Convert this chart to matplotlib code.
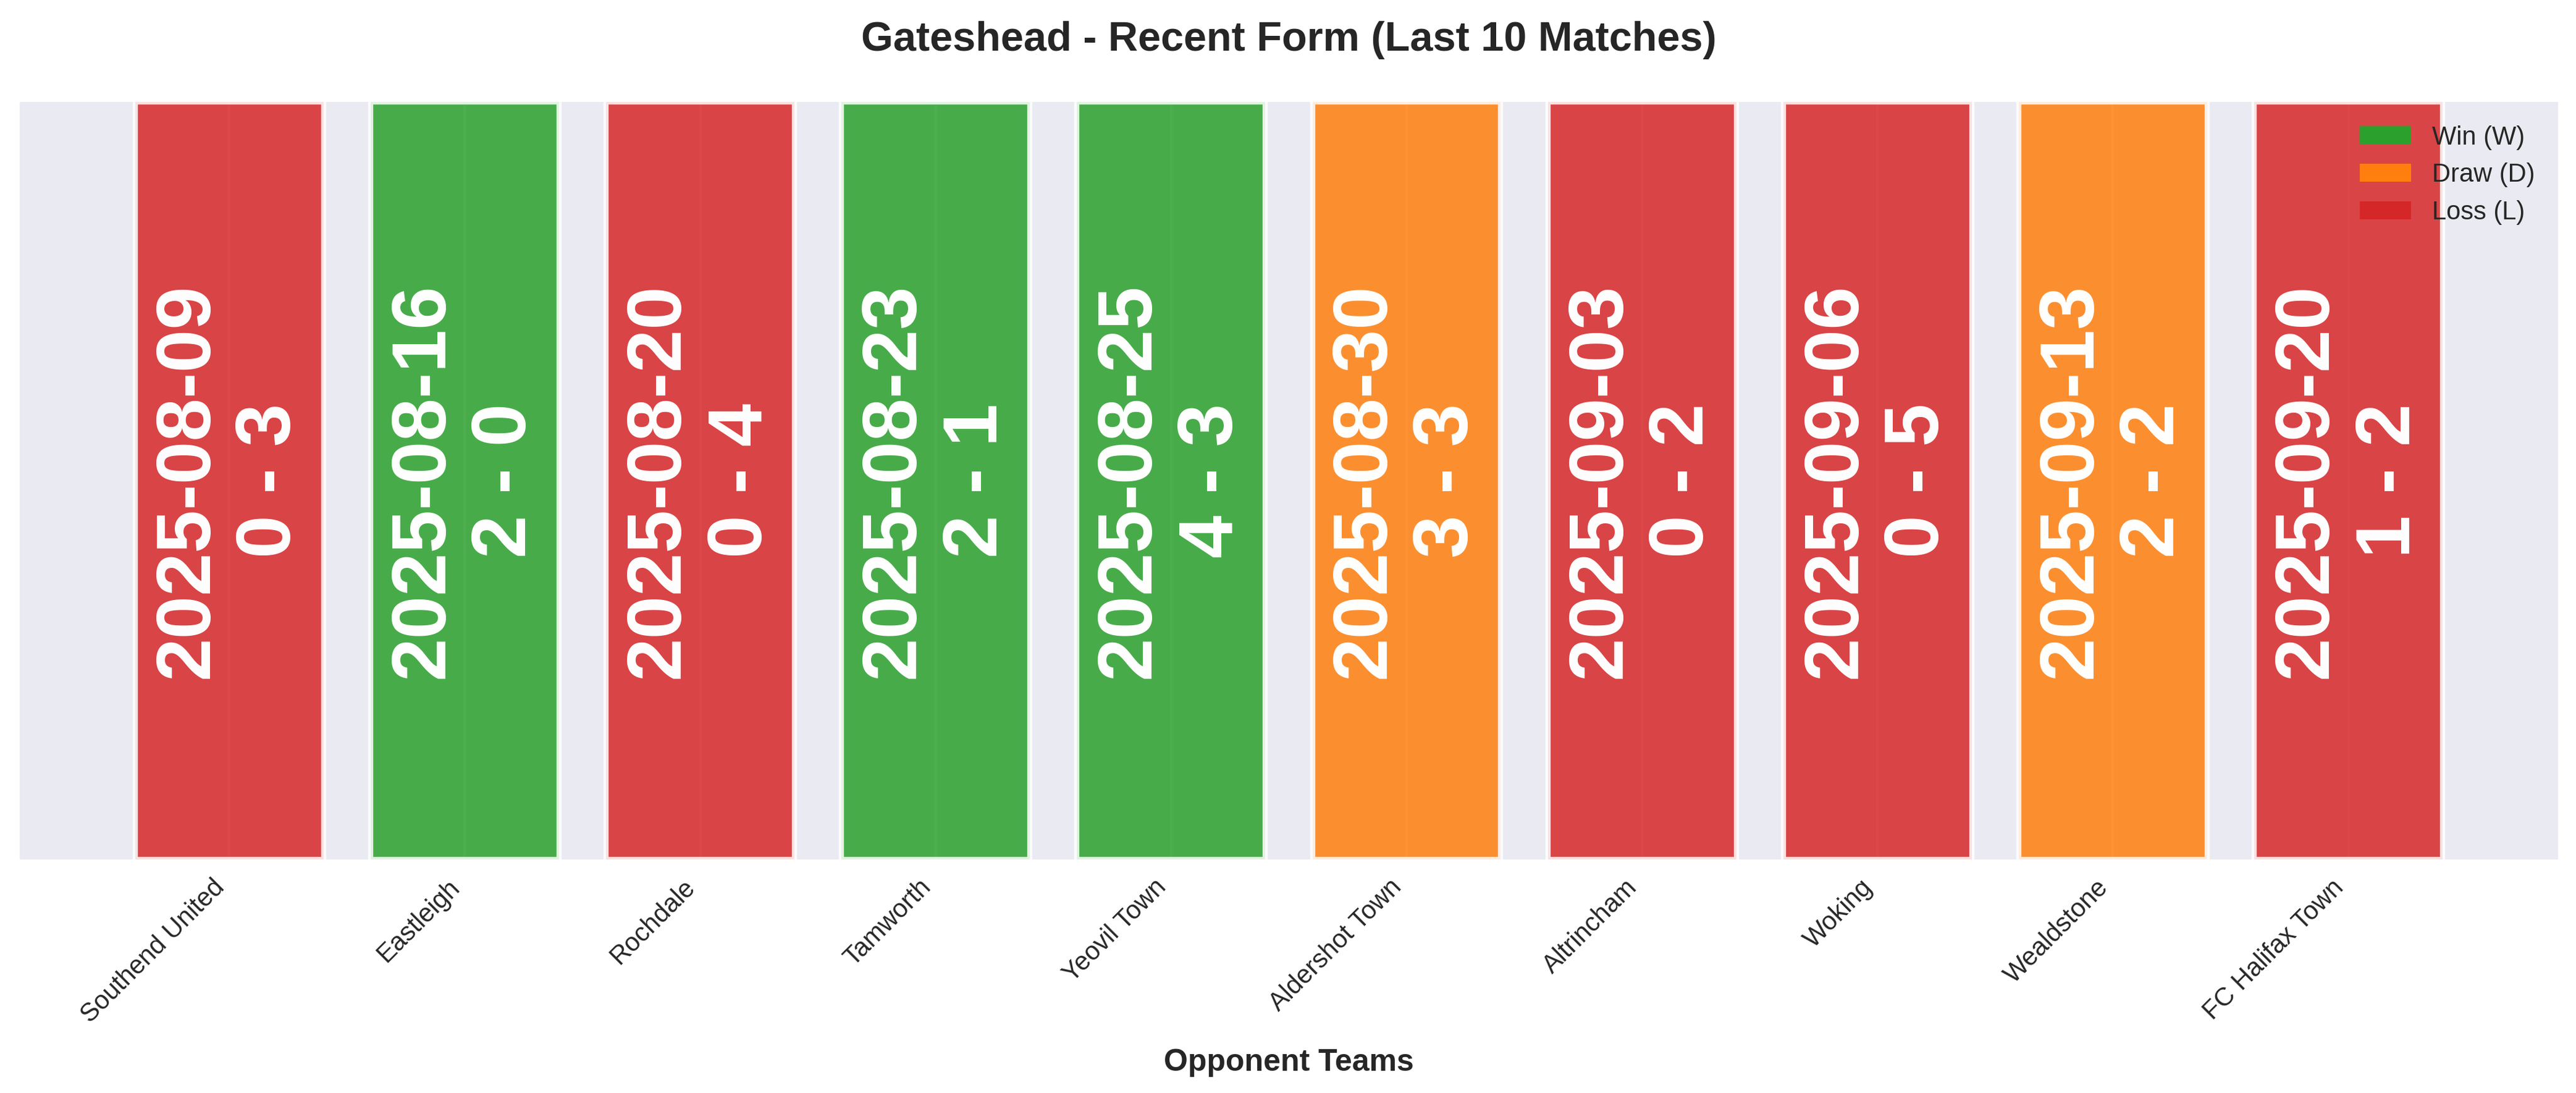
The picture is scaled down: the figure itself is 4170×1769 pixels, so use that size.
import matplotlib
matplotlib.use("Agg")
import matplotlib.pyplot as plt
from matplotlib.patches import Patch

plt.rcParams['font.family'] = ['Liberation Sans', 'DejaVu Sans']

# Match data
opponents = ['Southend United', 'Eastleigh', 'Rochdale', 'Tamworth', 'Yeovil Town',
             'Aldershot Town', 'Altrincham', 'Woking', 'Wealdstone', 'FC Halifax Town']
dates = ['2025-08-09', '2025-08-16', '2025-08-20', '2025-08-23', '2025-08-25',
         '2025-08-30', '2025-09-03', '2025-09-06', '2025-09-13', '2025-09-20']
scores = ['0 - 3', '2 - 0', '0 - 4', '2 - 1', '4 - 3',
          '3 - 3', '0 - 2', '0 - 5', '2 - 2', '1 - 2']
results = ['L', 'W', 'L', 'W', 'W', 'D', 'L', 'L', 'D', 'L']

result_colors = {'W': '#2ca02c', 'D': '#ff7f0e', 'L': '#d62728'}
result_names = {'W': 'Win (W)', 'D': 'Draw (D)', 'L': 'Loss (L)'}

fig = plt.figure(figsize=(13.9, 5.897), dpi=300)
ax = fig.add_axes([0.0077, 0.2137, 0.9853, 0.693])
ax.set_facecolor('#EAEAF2')
for s in ax.spines.values():
    s.set_visible(False)

x = list(range(len(opponents)))
bar_colors = [result_colors[r] for r in results]
ax.bar(x, [1] * len(x), width=0.8, color=bar_colors, edgecolor='white',
       linewidth=2, alpha=0.85, zorder=2)

# date + score written inside each bar
for i in x:
    ax.text(i, 0.5, dates[i] + '\n' + scores[i], rotation=90, ha='center', va='center',
            color='white', fontsize=30, fontweight='bold', zorder=3)

ax.set_ylim(0, 1)
ax.set_yticks([])
ax.set_xticks(x)
ax.set_xticklabels(opponents, rotation=45, ha='right', fontsize=10, color='#262626')
ax.tick_params(axis='x', length=0, pad=6)
ax.grid(axis='x', color='white', linewidth=1, zorder=1)
ax.set_axisbelow(True)

ax.set_xlabel('Opponent Teams', fontsize=12, fontweight='bold', color='#262626', labelpad=8)
ax.set_title('Gateshead - Recent Form (Last 10 Matches)', fontsize=16, fontweight='bold',
             color='#262626', pad=20)

handles = [Patch(facecolor=result_colors[k], label=result_names[k]) for k in ['W', 'D', 'L']]
legend = ax.legend(handles=handles, loc='upper right', fontsize=10, frameon=False)
for t in legend.get_texts():
    t.set_color('#262626')

fig.savefig('out.png', dpi=300)
